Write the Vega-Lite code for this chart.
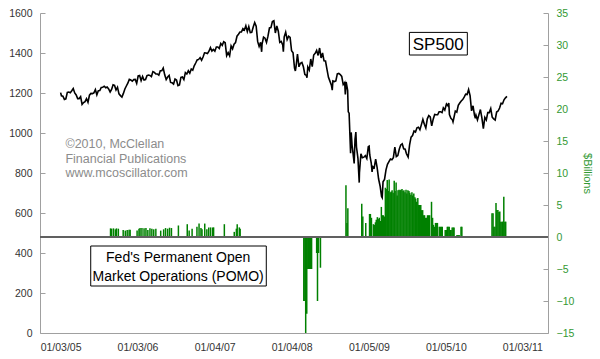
{
  "$schema": "https://vega.github.io/schema/vega-lite/v6.json",
  "width": 508,
  "height": 320,
  "autosize": {"type": "none"},
  "padding": {"left": 40, "top": 13, "right": 52, "bottom": 26},
  "background": "white",
  "config": {"view": {"stroke": null}, "font": "Liberation Sans", "axis": {"domainColor": "#a0a0a0", "tickColor": "#a0a0a0", "labelFont": "Liberation Sans", "titleFont": "Liberation Sans"}},
  "datasets": {
    "sp": [
      {"date":"2005-01-03","close":1202},{"date":"2005-01-07","close":1186},{"date":"2005-01-14","close":1184},{"date":"2005-01-21","close":1168},{"date":"2005-01-28","close":1171},{"date":"2005-02-04","close":1203},{"date":"2005-02-11","close":1205},{"date":"2005-02-18","close":1201},{"date":"2005-02-25","close":1211},{"date":"2005-03-04","close":1222},{"date":"2005-03-11","close":1200},{"date":"2005-03-18","close":1190},{"date":"2005-03-25","close":1172},{"date":"2005-04-01","close":1172},{"date":"2005-04-08","close":1182},{"date":"2005-04-15","close":1143},{"date":"2005-04-22","close":1152},{"date":"2005-04-29","close":1157},{"date":"2005-05-06","close":1172},{"date":"2005-05-13","close":1154},{"date":"2005-05-20","close":1189},{"date":"2005-05-27","close":1198},{"date":"2005-06-03","close":1197},{"date":"2005-06-10","close":1201},{"date":"2005-06-17","close":1217},{"date":"2005-06-24","close":1191},{"date":"2005-07-01","close":1211},{"date":"2005-07-08","close":1212},{"date":"2005-07-15","close":1228},{"date":"2005-07-22","close":1229},{"date":"2005-07-29","close":1234},{"date":"2005-08-05","close":1226},{"date":"2005-08-12","close":1230},{"date":"2005-08-19","close":1220},{"date":"2005-08-26","close":1205},{"date":"2005-09-02","close":1218},{"date":"2005-09-09","close":1241},{"date":"2005-09-16","close":1238},{"date":"2005-09-23","close":1215},{"date":"2005-09-30","close":1229},{"date":"2005-10-07","close":1196},{"date":"2005-10-14","close":1187},{"date":"2005-10-21","close":1180},{"date":"2005-10-28","close":1198},{"date":"2005-11-04","close":1220},{"date":"2005-11-11","close":1235},{"date":"2005-11-18","close":1249},{"date":"2005-11-25","close":1268},{"date":"2005-12-02","close":1265},{"date":"2005-12-09","close":1259},{"date":"2005-12-16","close":1267},{"date":"2005-12-23","close":1268},{"date":"2005-12-30","close":1248},
      {"date":"2006-01-06","close":1285},{"date":"2006-01-13","close":1287},{"date":"2006-01-20","close":1262},{"date":"2006-01-27","close":1283},{"date":"2006-02-03","close":1265},{"date":"2006-02-10","close":1267},{"date":"2006-02-17","close":1287},{"date":"2006-02-24","close":1290},{"date":"2006-03-03","close":1288},{"date":"2006-03-10","close":1282},{"date":"2006-03-17","close":1307},{"date":"2006-03-24","close":1303},{"date":"2006-03-31","close":1295},{"date":"2006-04-07","close":1295},{"date":"2006-04-14","close":1289},{"date":"2006-04-21","close":1311},{"date":"2006-04-28","close":1311},{"date":"2006-05-05","close":1325},{"date":"2006-05-12","close":1291},{"date":"2006-05-19","close":1267},{"date":"2006-05-26","close":1280},{"date":"2006-06-02","close":1288},{"date":"2006-06-09","close":1253},{"date":"2006-06-16","close":1251},{"date":"2006-06-23","close":1245},{"date":"2006-06-30","close":1270},{"date":"2006-07-07","close":1265},{"date":"2006-07-14","close":1237},{"date":"2006-07-21","close":1240},{"date":"2006-07-28","close":1278},{"date":"2006-08-04","close":1280},{"date":"2006-08-11","close":1267},{"date":"2006-08-18","close":1302},{"date":"2006-08-25","close":1295},{"date":"2006-09-01","close":1311},{"date":"2006-09-08","close":1299},{"date":"2006-09-15","close":1320},{"date":"2006-09-22","close":1314},{"date":"2006-09-29","close":1336},{"date":"2006-10-06","close":1350},{"date":"2006-10-13","close":1365},{"date":"2006-10-20","close":1368},{"date":"2006-10-27","close":1377},{"date":"2006-11-03","close":1364},{"date":"2006-11-10","close":1380},{"date":"2006-11-17","close":1401},{"date":"2006-11-24","close":1400},{"date":"2006-12-01","close":1397},{"date":"2006-12-08","close":1409},{"date":"2006-12-15","close":1427},{"date":"2006-12-22","close":1410},{"date":"2006-12-29","close":1418},
      {"date":"2007-01-05","close":1409},{"date":"2007-01-12","close":1430},{"date":"2007-01-19","close":1430},{"date":"2007-01-26","close":1423},{"date":"2007-02-02","close":1448},{"date":"2007-02-09","close":1438},{"date":"2007-02-16","close":1456},{"date":"2007-02-23","close":1451},{"date":"2007-03-02","close":1387},{"date":"2007-03-09","close":1402},{"date":"2007-03-16","close":1386},{"date":"2007-03-23","close":1436},{"date":"2007-03-30","close":1421},{"date":"2007-04-06","close":1444},{"date":"2007-04-13","close":1452},{"date":"2007-04-20","close":1484},{"date":"2007-04-27","close":1494},{"date":"2007-05-04","close":1505},{"date":"2007-05-11","close":1505},{"date":"2007-05-18","close":1522},{"date":"2007-05-25","close":1515},{"date":"2007-06-01","close":1536},{"date":"2007-06-08","close":1507},{"date":"2007-06-15","close":1532},{"date":"2007-06-22","close":1502},{"date":"2007-06-29","close":1503},{"date":"2007-07-06","close":1530},{"date":"2007-07-13","close":1552},{"date":"2007-07-20","close":1534},{"date":"2007-07-27","close":1458},{"date":"2007-08-03","close":1433},{"date":"2007-08-10","close":1453},{"date":"2007-08-15","close":1406},{"date":"2007-08-17","close":1445},{"date":"2007-08-24","close":1479},{"date":"2007-08-31","close":1474},{"date":"2007-09-07","close":1453},{"date":"2007-09-14","close":1484},{"date":"2007-09-21","close":1525},{"date":"2007-09-28","close":1527},{"date":"2007-10-05","close":1557},{"date":"2007-10-12","close":1561},{"date":"2007-10-19","close":1500},{"date":"2007-10-26","close":1535},{"date":"2007-11-02","close":1509},{"date":"2007-11-09","close":1453},{"date":"2007-11-16","close":1458},{"date":"2007-11-23","close":1440},{"date":"2007-11-26","close":1407},{"date":"2007-11-30","close":1481},{"date":"2007-12-07","close":1504},{"date":"2007-12-14","close":1467},{"date":"2007-12-21","close":1484},{"date":"2007-12-28","close":1478},
      {"date":"2008-01-04","close":1411},{"date":"2008-01-11","close":1401},{"date":"2008-01-18","close":1325},{"date":"2008-01-22","close":1310},{"date":"2008-01-25","close":1330},{"date":"2008-02-01","close":1395},{"date":"2008-02-08","close":1331},{"date":"2008-02-15","close":1349},{"date":"2008-02-22","close":1353},{"date":"2008-02-29","close":1331},{"date":"2008-03-07","close":1293},{"date":"2008-03-14","close":1288},{"date":"2008-03-17","close":1276},{"date":"2008-03-21","close":1330},{"date":"2008-03-28","close":1315},{"date":"2008-04-04","close":1370},{"date":"2008-04-11","close":1332},{"date":"2008-04-18","close":1390},{"date":"2008-04-25","close":1398},{"date":"2008-05-02","close":1413},{"date":"2008-05-09","close":1388},{"date":"2008-05-16","close":1425},{"date":"2008-05-23","close":1375},{"date":"2008-05-30","close":1400},{"date":"2008-06-06","close":1361},{"date":"2008-06-13","close":1360},{"date":"2008-06-20","close":1318},{"date":"2008-06-27","close":1278},{"date":"2008-07-03","close":1262},{"date":"2008-07-11","close":1239},{"date":"2008-07-15","close":1214},{"date":"2008-07-18","close":1260},{"date":"2008-07-25","close":1257},{"date":"2008-08-01","close":1260},{"date":"2008-08-08","close":1296},{"date":"2008-08-15","close":1298},{"date":"2008-08-22","close":1292},{"date":"2008-08-29","close":1283},{"date":"2008-09-05","close":1242},{"date":"2008-09-12","close":1252},{"date":"2008-09-15","close":1193},{"date":"2008-09-19","close":1255},{"date":"2008-09-26","close":1213},{"date":"2008-09-29","close":1106},{"date":"2008-10-03","close":1099},{"date":"2008-10-10","close":899},{"date":"2008-10-13","close":1003},{"date":"2008-10-17","close":940},{"date":"2008-10-24","close":877},{"date":"2008-10-27","close":848},{"date":"2008-10-31","close":968},{"date":"2008-11-04","close":1005},{"date":"2008-11-07","close":930},{"date":"2008-11-14","close":873},{"date":"2008-11-20","close":752},{"date":"2008-11-21","close":800},{"date":"2008-11-28","close":896},{"date":"2008-12-05","close":876},{"date":"2008-12-12","close":879},{"date":"2008-12-19","close":887},{"date":"2008-12-26","close":872},
      {"date":"2009-01-02","close":931},{"date":"2009-01-06","close":934},{"date":"2009-01-09","close":890},{"date":"2009-01-16","close":850},{"date":"2009-01-20","close":805},{"date":"2009-01-23","close":832},{"date":"2009-01-30","close":826},{"date":"2009-02-06","close":869},{"date":"2009-02-13","close":827},{"date":"2009-02-20","close":770},{"date":"2009-02-27","close":735},{"date":"2009-03-06","close":683},{"date":"2009-03-09","close":677},{"date":"2009-03-13","close":756},{"date":"2009-03-20","close":768},{"date":"2009-03-27","close":816},{"date":"2009-04-03","close":843},{"date":"2009-04-10","close":857},{"date":"2009-04-17","close":870},{"date":"2009-04-24","close":866},{"date":"2009-05-01","close":877},{"date":"2009-05-08","close":929},{"date":"2009-05-15","close":882},{"date":"2009-05-22","close":887},{"date":"2009-05-29","close":919},{"date":"2009-06-05","close":940},{"date":"2009-06-12","close":946},{"date":"2009-06-19","close":921},{"date":"2009-06-26","close":919},{"date":"2009-07-02","close":896},{"date":"2009-07-10","close":880},{"date":"2009-07-17","close":941},{"date":"2009-07-24","close":979},{"date":"2009-07-31","close":987},{"date":"2009-08-07","close":1010},{"date":"2009-08-14","close":1005},{"date":"2009-08-21","close":1026},{"date":"2009-08-28","close":1029},{"date":"2009-09-04","close":1016},{"date":"2009-09-11","close":1042},{"date":"2009-09-18","close":1068},{"date":"2009-09-25","close":1044},{"date":"2009-10-02","close":1025},{"date":"2009-10-09","close":1071},{"date":"2009-10-16","close":1087},{"date":"2009-10-23","close":1080},{"date":"2009-10-30","close":1036},{"date":"2009-11-06","close":1069},{"date":"2009-11-13","close":1093},{"date":"2009-11-20","close":1091},{"date":"2009-11-27","close":1091},{"date":"2009-12-04","close":1106},{"date":"2009-12-11","close":1106},{"date":"2009-12-18","close":1102},{"date":"2009-12-24","close":1126},
      {"date":"2009-12-31","close":1115},{"date":"2010-01-08","close":1145},{"date":"2010-01-15","close":1136},{"date":"2010-01-19","close":1150},{"date":"2010-01-22","close":1092},{"date":"2010-01-29","close":1074},{"date":"2010-02-05","close":1066},{"date":"2010-02-08","close":1056},{"date":"2010-02-12","close":1075},{"date":"2010-02-19","close":1109},{"date":"2010-02-26","close":1104},{"date":"2010-03-05","close":1138},{"date":"2010-03-12","close":1150},{"date":"2010-03-19","close":1160},{"date":"2010-03-26","close":1167},{"date":"2010-04-02","close":1179},{"date":"2010-04-09","close":1194},{"date":"2010-04-16","close":1192},{"date":"2010-04-23","close":1217},{"date":"2010-04-30","close":1187},{"date":"2010-05-07","close":1111},{"date":"2010-05-14","close":1136},{"date":"2010-05-21","close":1088},{"date":"2010-05-25","close":1074},{"date":"2010-05-28","close":1089},{"date":"2010-06-04","close":1065},{"date":"2010-06-11","close":1092},{"date":"2010-06-18","close":1117},{"date":"2010-06-25","close":1076},{"date":"2010-07-02","close":1022},{"date":"2010-07-09","close":1078},{"date":"2010-07-16","close":1065},{"date":"2010-07-23","close":1102},{"date":"2010-07-30","close":1102},{"date":"2010-08-06","close":1122},{"date":"2010-08-13","close":1079},{"date":"2010-08-20","close":1071},{"date":"2010-08-27","close":1065},{"date":"2010-09-03","close":1105},{"date":"2010-09-10","close":1110},{"date":"2010-09-17","close":1125},{"date":"2010-09-24","close":1149},{"date":"2010-10-01","close":1146},{"date":"2010-10-08","close":1166},{"date":"2010-10-15","close":1176},{"date":"2010-10-22","close":1183}
    ],
    "pomo": [
      {"date":"2005-08-28","b":1.35},{"date":"2005-09-02","b":1.3},{"date":"2005-09-11","b":1.35},{"date":"2005-09-20","b":1.2},{"date":"2005-09-25","b":1.35},{"date":"2005-10-04","b":1.3},
      {"date":"2005-10-27","b":1.1},{"date":"2005-11-06","b":1.0},{"date":"2005-11-15","b":1.1},{"date":"2005-11-24","b":1.15},{"date":"2005-11-29","b":1.15},
      {"date":"2006-01-01","b":1.0},{"date":"2006-01-10","b":1.3},{"date":"2006-01-15","b":1.4},{"date":"2006-01-24","b":1.4},{"date":"2006-02-03","b":1.35},{"date":"2006-02-12","b":1.4},{"date":"2006-02-21","b":1.1},{"date":"2006-03-03","b":1.35},{"date":"2006-03-12","b":1.3},{"date":"2006-03-21","b":1.2},{"date":"2006-03-31","b":1.3},
      {"date":"2006-04-23","b":1.0},{"date":"2006-05-07","b":1.2},{"date":"2006-05-16","b":1.4},{"date":"2006-05-26","b":1.3},{"date":"2006-06-04","b":1.45},{"date":"2006-06-13","b":1.4},
      {"date":"2006-07-16","b":1.8},{"date":"2006-08-27","b":2.0},{"date":"2006-09-05","b":1.0},{"date":"2006-09-19","b":1.3},{"date":"2006-10-12","b":1.6},{"date":"2006-10-22","b":2.1},{"date":"2006-10-31","b":1.4},{"date":"2006-11-05","b":1.2},
      {"date":"2006-11-18","b":2.1},{"date":"2006-11-28","b":1.2},{"date":"2006-12-07","b":1.5},{"date":"2006-12-16","b":1.5},{"date":"2006-12-26","b":1.5},{"date":"2006-12-30","b":1.5},
      {"date":"2007-02-19","b":2.0},{"date":"2007-04-07","b":0.8},{"date":"2007-04-17","b":1.3},{"date":"2007-04-21","b":2.0},{"date":"2007-05-01","b":1.5},{"date":"2007-05-05","b":1.3},
      {"date":"2008-03-02","b":-10},{"date":"2008-03-07","b":-10},{"date":"2008-03-11","b":-15},{"date":"2008-03-16","b":-12},{"date":"2008-03-21","b":-5},{"date":"2008-03-25","b":-5},{"date":"2008-03-30","b":-5},{"date":"2008-04-04","b":-5},{"date":"2008-04-08","b":-5},
      {"date":"2008-05-02","b":-2.5},{"date":"2008-05-06","b":-10},{"date":"2008-05-11","b":-2.5},{"date":"2008-05-20","b":-4.8},
      {"date":"2008-09-18","b":8.1},{"date":"2008-09-23","b":2.2},{"date":"2008-09-27","b":4.5},
      {"date":"2008-12-02","b":5.2},{"date":"2008-12-07","b":3.2},{"date":"2008-12-21","b":2.2},
      {"date":"2009-01-08","b":3.6},{"date":"2009-01-12","b":3.6},{"date":"2009-01-17","b":3.0},{"date":"2009-01-26","b":2.0},{"date":"2009-01-31","b":1.9},{"date":"2009-02-05","b":2.3},{"date":"2009-02-09","b":2.7},{"date":"2009-02-14","b":3.1},{"date":"2009-02-19","b":2.8},{"date":"2009-02-23","b":3.0},{"date":"2009-02-28","b":2.5},
      {"date":"2009-03-05","b":4.7},{"date":"2009-03-10","b":3.4},{"date":"2009-03-14","b":3.4},{"date":"2009-03-19","b":3.2},{"date":"2009-03-24","b":7.7},{"date":"2009-03-28","b":7.5},{"date":"2009-04-02","b":8.9},{"date":"2009-04-07","b":7.2},{"date":"2009-04-11","b":9.0},{"date":"2009-04-16","b":7.0},{"date":"2009-04-21","b":7.1},{"date":"2009-04-25","b":7.3},{"date":"2009-04-30","b":6.9},{"date":"2009-05-05","b":8.8},{"date":"2009-05-09","b":7.2},{"date":"2009-05-14","b":8.5},{"date":"2009-05-19","b":6.5},{"date":"2009-05-23","b":7.3},{"date":"2009-05-28","b":7.4},
      {"date":"2009-06-02","b":7.3},{"date":"2009-06-06","b":7.4},{"date":"2009-06-11","b":7.5},{"date":"2009-06-16","b":7.2},{"date":"2009-06-20","b":7.3},{"date":"2009-06-25","b":7.0},{"date":"2009-06-30","b":7.4},{"date":"2009-07-04","b":6.8},{"date":"2009-07-09","b":7.3},{"date":"2009-07-14","b":7.2},{"date":"2009-07-18","b":6.9},{"date":"2009-07-23","b":6.6},{"date":"2009-07-28","b":7.0},{"date":"2009-08-01","b":6.5},{"date":"2009-08-06","b":6.8},{"date":"2009-08-11","b":6.2},{"date":"2009-08-15","b":6.0},{"date":"2009-08-20","b":5.5},{"date":"2009-08-25","b":6.1},
      {"date":"2009-08-29","b":5.0},{"date":"2009-09-03","b":5.0},{"date":"2009-09-08","b":5.0},{"date":"2009-09-12","b":4.2},{"date":"2009-09-17","b":4.2},{"date":"2009-09-22","b":3.4},{"date":"2009-09-26","b":3.4},{"date":"2009-10-01","b":3.0},{"date":"2009-10-06","b":3.0},{"date":"2009-10-10","b":3.4},{"date":"2009-10-15","b":3.4},{"date":"2009-10-20","b":3.4},{"date":"2009-10-29","b":5.5},{"date":"2009-11-03","b":3.0},{"date":"2009-11-07","b":1.9},{"date":"2009-11-12","b":1.6},{"date":"2009-11-17","b":2.2},{"date":"2009-11-21","b":2.2},{"date":"2009-11-26","b":2.2},{"date":"2009-12-05","b":1.6},{"date":"2009-12-10","b":1.6},{"date":"2009-12-15","b":1.6},{"date":"2009-12-19","b":1.6},
      {"date":"2010-01-02","b":1.1},{"date":"2010-01-07","b":1.1},{"date":"2010-01-12","b":1.6},{"date":"2010-01-16","b":1.6},{"date":"2010-01-21","b":1.6},{"date":"2010-01-26","b":1.1},{"date":"2010-01-30","b":1.1},{"date":"2010-02-04","b":1.5},{"date":"2010-02-09","b":1.5},{"date":"2010-02-13","b":1.5},{"date":"2010-02-27","b":0.3},{"date":"2010-03-04","b":0.3},{"date":"2010-03-09","b":0.3},{"date":"2010-03-18","b":1.6},{"date":"2010-03-22","b":1.6},
      {"date":"2010-08-12","b":3.7},{"date":"2010-08-17","b":3.7},{"date":"2010-08-21","b":1.6},{"date":"2010-08-26","b":1.6},{"date":"2010-08-31","b":5.3},{"date":"2010-09-04","b":4.2},{"date":"2010-09-09","b":4.2},{"date":"2010-09-14","b":3.9},{"date":"2010-09-18","b":4.0},{"date":"2010-09-23","b":2.4},{"date":"2010-09-28","b":2.4},{"date":"2010-10-02","b":2.4},{"date":"2010-10-07","b":6.3},{"date":"2010-10-12","b":2.4},{"date":"2010-10-16","b":2.4}
    ]
  },
  "layer": [
    {
      "layer": [
        {
          "data": {"name": "pomo"},
          "mark": {"type": "bar", "color": "#008000", "size": 1.5},
          "encoding": {
            "x": {"field": "date", "type": "temporal", "title": null},
            "y": {"field": "b", "type": "quantitative", "scale": {"domain": [-15, 35], "nice": false, "zero": false},
              "axis": {"orient": "right", "values": [-15,-10,-5,0,5,10,15,20,25,30,35], "tickCount": 30, "title": "$Billions", "grid": false, "tickSize": -5, "labelPadding": 13, "labelOverlap": false, "labelFontSize": 10.5, "labelColor": "#339933", "titleColor": "#339933", "titleFontSize": 11, "titleFontWeight": "normal", "titlePadding": 8}}
          }
        },
        {
          "data": {"values": [{}]},
          "mark": {"type": "rule", "color": "#606060", "strokeWidth": 2},
          "encoding": {"y": {"datum": 0, "type": "quantitative"}}
        }
      ]
    },
    {
      "layer": [
        {
          "data": {"name": "sp"},
          "mark": {"type": "line", "color": "black", "strokeWidth": 1.6},
          "encoding": {
            "x": {"field": "date", "type": "temporal",
              "scale": {"type": "utc", "domain": [{"year": 2004, "month": 10, "date": 21, "utc": true}, {"year": 2011, "month": 4, "date": 11, "utc": true}]},
              "axis": {"values": [{"year": 2005, "month": 1, "date": 3, "utc": true}, {"year": 2006, "month": 1, "date": 3, "utc": true}, {"year": 2007, "month": 1, "date": 4, "utc": true}, {"year": 2008, "month": 1, "date": 4, "utc": true}, {"year": 2009, "month": 1, "date": 5, "utc": true}, {"year": 2010, "month": 1, "date": 5, "utc": true}, {"year": 2011, "month": 1, "date": 3, "utc": true}],
                "tickCount": 30, "format": "%m/%d/%y", "title": null, "grid": false, "ticks": false, "labelPadding": 9, "labelFlush": false, "labelOverlap": false, "labelFontSize": 10.5, "labelColor": "#333333"}},
            "y": {"field": "close", "type": "quantitative", "scale": {"domain": [0, 1600], "nice": false},
              "axis": {"orient": "left", "values": [0,200,400,600,800,1000,1200,1400,1600], "tickCount": 30, "format": "d", "title": null, "grid": false, "tickSize": -5, "labelPadding": 13, "labelOverlap": false, "labelFontSize": 10.5, "labelColor": "#333333"}}
          }
        },
        {
          "data": {"values": [{}]},
          "mark": {"type": "rect", "fill": "white", "stroke": "black", "strokeWidth": 1},
          "encoding": {
            "x": {"datum": {"year": 2009, "month": 7, "date": 16, "utc": true}, "type": "temporal"},
            "x2": {"datum": {"year": 2010, "month": 4, "date": 17, "utc": true}},
            "y": {"datum": 1503, "type": "quantitative"},
            "y2": {"datum": 1390}
          }
        },
        {
          "data": {"values": [{}]},
          "mark": {"type": "text", "text": "SP500", "fontSize": 17, "align": "center", "baseline": "alphabetic", "color": "black"},
          "encoding": {
            "x": {"datum": {"year": 2009, "month": 11, "date": 30, "utc": true}, "type": "temporal"},
            "y": {"datum": 1415, "type": "quantitative"}
          }
        },
        {
          "data": {"values": [{}]},
          "mark": {"type": "rect", "fill": "white", "stroke": "black", "strokeWidth": 1},
          "encoding": {
            "x": {"datum": {"year": 2005, "month": 5, "date": 26, "utc": true}, "type": "temporal"},
            "x2": {"datum": {"year": 2007, "month": 9, "date": 6, "utc": true}},
            "y": {"datum": 435, "type": "quantitative"},
            "y2": {"datum": 235}
          }
        },
        {
          "data": {"values": [{}]},
          "mark": {"type": "text", "text": ["Fed's Permanent Open", "Market Operations (POMO)"], "lineHeight": 19, "fontSize": 14, "align": "center", "baseline": "alphabetic", "color": "black"},
          "encoding": {
            "x": {"datum": {"year": 2006, "month": 7, "date": 15, "utc": true}, "type": "temporal"},
            "y": {"datum": 355, "type": "quantitative"}
          }
        },
        {
          "data": {"values": [{}]},
          "mark": {"type": "text", "text": ["©2010, McClellan", "Financial Publications", "www.mcoscillator.com"], "lineHeight": 14.5, "fontSize": 12.5, "align": "left", "baseline": "alphabetic", "color": "#8c8c8c"},
          "encoding": {
            "x": {"datum": {"year": 2005, "month": 1, "date": 26, "utc": true}, "type": "temporal"},
            "y": {"datum": 925, "type": "quantitative"}
          }
        }
      ]
    }
  ],
  "resolve": {"scale": {"y": "independent"}}
}
